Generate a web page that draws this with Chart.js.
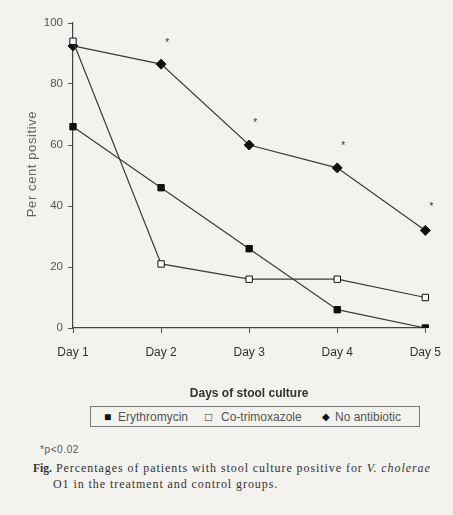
<!DOCTYPE html>
<html>
<head>
<meta charset="utf-8">
<script src="https://cdn.jsdelivr.net/npm/chart.js@4"></script>
<style>
  html, body { margin: 0; padding: 0; background: #f3f2ef; }
  #wrap { position: relative; width: 453px; height: 515px; overflow: hidden; }
  #chartBox { position: absolute; left: 0; top: 0; width: 453px; height: 405px; }
  #legend {
    position: absolute; left: 90px; top: 406px; width: 328px; height: 19px;
    border: 1px solid #777; font: 12px "Liberation Sans", Arial, sans-serif; color: #555;
    line-height: 20px; white-space: nowrap;
  }
  #legend span { position: absolute; top: 0; }
  #note { position: absolute; left: 40px; top: 444px; font: 10px "Liberation Sans", Arial, sans-serif;
          letter-spacing: 0.6px; color: #555; }
  #caption {
    position: absolute; left: 33px; top: 460px; width: 420px;
    font: 12px "Liberation Serif", "DejaVu Serif", serif; color: #333; line-height: 16px;
  }
  #caption b { position: absolute; left: 0; top: 0; font-size: 11.5px; }
  #caption .l1 { position: absolute; left: 23px; top: 0; white-space: nowrap; letter-spacing: 0.93px; }
  #caption .l2 { position: absolute; left: 20px; top: 16px; white-space: nowrap; letter-spacing: 0.93px; }
</style>
</head>
<body>
<div id="wrap">
  <div id="chartBox"><canvas id="c" width="453" height="405"></canvas></div>
  <div id="legend">
    <span style="left:13px;color:#111">&#9632;</span><span style="left:27px">Erythromycin</span>
    <span style="left:114px;color:#333">&#9633;</span><span style="left:130px">Co-trimoxazole</span>
    <span style="left:231px;font-size:10px;color:#111">&#9670;</span><span style="left:244px">No antibiotic</span>
  </div>
  <div id="note">*p&lt;0.02</div>
  <div id="caption">
    <b>Fig.</b>
    <span class="l1">Percentages of patients with stool culture positive for <i>V. cholerae</i></span>
    <span class="l2">O1 in the treatment and control groups.</span>
  </div>
</div>
<script>
// 데이터
const days = ['Day 1', 'Day 2', 'Day 3', 'Day 4', 'Day 5'];
const erythromycin = [66, 46, 26, 6, 0];
const coTrimoxazole = [94, 21, 16, 16, 10];
const noAntibiotic = [92.5, 86.5, 60, 52.5, 32];
// 유의성 표시(*) 위치
const starValues = [null, 94.5, 68, 60.5, 40.5];
const yTicks = [0, 20, 40, 60, 80, 100];
const yTitle = 'Per cent positive';

const lineColor = '#3a3a3a';
const sans = '"Liberation Sans", Arial, sans-serif';

function makeSet(label, data, style, fill, radius) {
  return {
    label: label,
    data: data,
    borderColor: lineColor,
    borderWidth: 1.2,
    pointStyle: style,
    pointRadius: radius,
    pointBackgroundColor: fill,
    pointBorderColor: '#111',
    pointBorderWidth: 1,
    tension: 0
  };
}

// 별표 + y축 제목 그리는 플러그인
const extrasPlugin = {
  id: 'extras',
  afterDatasetsDraw(chart) {
    const ctx = chart.ctx;
    const xs = chart.scales.x, ys = chart.scales.y;
    ctx.save();
    ctx.fillStyle = '#333';
    ctx.font = '10px ' + sans;
    ctx.textAlign = 'center';
    ctx.textBaseline = 'middle';
    starValues.forEach((v, i) => {
      if (v === null) return;
      ctx.fillText('*', xs.getPixelForValue(i) + 6, ys.getPixelForValue(v) + 3);
    });
    // y축 제목
    ctx.translate(32, 164);
    ctx.rotate(-Math.PI / 2);
    ctx.fillStyle = '#666';
    ctx.font = '13px ' + sans;
    if ('letterSpacing' in ctx) ctx.letterSpacing = '0.6px';
    ctx.fillText(yTitle, 0, 0);
    ctx.restore();
  }
};

const ctx = document.getElementById('c').getContext('2d');
new Chart(ctx, {
  type: 'line',
  data: {
    labels: days,
    datasets: [
      makeSet('Erythromycin', erythromycin, 'rect', '#111', 4.5),
      makeSet('Co-trimoxazole', coTrimoxazole, 'rect', '#fff', 4.5),
      makeSet('No antibiotic', noAntibiotic, 'rectRot', '#111', 5)
    ]
  },
  options: {
    responsive: false,
    animation: false,
    layout: { padding: { top: 23, right: 24, left: 0, bottom: 0 } },
    plugins: { legend: { display: false }, tooltip: { enabled: false } },
    scales: {
      x: {
        offset: false,
        grid: { display: true, drawOnChartArea: false, color: '#555', tickLength: 5 },
        border: { color: '#444', width: 1.2 },
        ticks: { color: '#333', font: { size: 12, family: sans }, padding: 12, maxRotation: 0 },
        title: { display: true, text: 'Days of stool culture', color: '#333',
                 font: { size: 12, weight: 'bold', family: sans } },
        afterFit: s => { s.height = 77; }
      },
      y: {
        min: 0, max: 100,
        afterBuildTicks: s => { s.ticks = yTicks.map(v => ({ value: v })); },
        grid: { display: true, drawOnChartArea: false, color: '#555', tickLength: 5 },
        border: { color: '#444', width: 1.2 },
        ticks: { color: '#555', font: { size: 11.5, family: sans }, padding: 5 },
        afterFit: s => { s.width = 73; }
      }
    }
  },
  plugins: [extrasPlugin]
});
</script>
</body>
</html>
